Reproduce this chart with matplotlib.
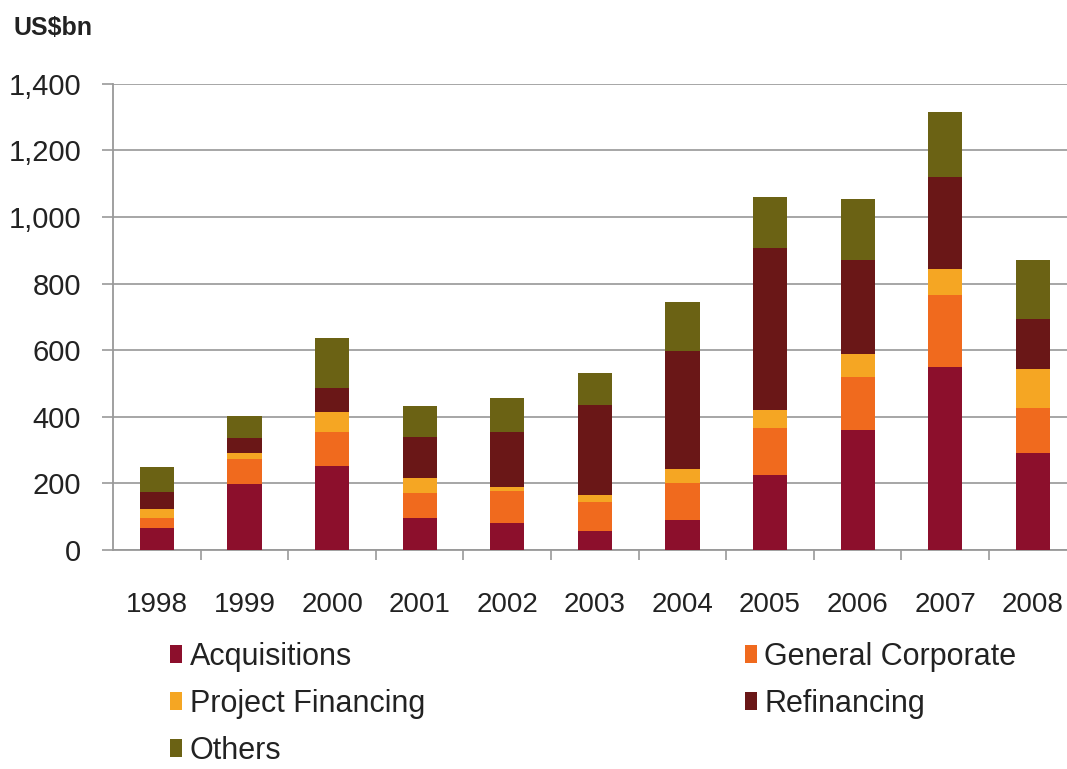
import matplotlib.pyplot as plt
import numpy as np

plt.rcParams['font.family'] = ['Liberation Sans', 'DejaVu Sans']

# Empréstimos sindicados por finalidade (US$ bilhões)
years = ['1998', '1999', '2000', '2001', '2002', '2003', '2004', '2005', '2006', '2007', '2008']
acquisitions = [65, 198, 252, 97, 80, 57, 90, 225, 360, 550, 290]
general_corporate = [30, 74, 101, 73, 98, 86, 110, 140, 160, 215, 137]
project_financing = [27, 18, 60, 47, 12, 22, 44, 55, 67, 78, 116]
refinancing = [53, 47, 72, 121, 163, 270, 352, 486, 284, 277, 150]
others = [73, 66, 152, 94, 102, 97, 149, 155, 184, 195, 178]

series = [
    ('Acquisitions', acquisitions, '#8c0f2c'),
    ('General Corporate', general_corporate, '#f06a1e'),
    ('Project Financing', project_financing, '#f5a623'),
    ('Refinancing', refinancing, '#6a1717'),
    ('Others', others, '#6b6214'),
]

fig = plt.figure(figsize=(10.67, 7.69), dpi=100)
ax = fig.add_axes([0.106, 0.285, 0.894, 0.606])

x = np.arange(len(years))
bottom = np.zeros(len(years))
handles = {}
for label, values, color in series:
    bars = ax.bar(x, values, width=0.39, bottom=bottom, color=color, label=label, zorder=3)
    handles[label] = bars
    bottom += np.array(values)

# Eixos e grade
ax.set_ylim(0, 1400)
ax.set_xlim(-0.5, 10.39)
ax.set_yticks(range(0, 1401, 200))
ax.set_yticklabels([f'{v:,}' for v in range(0, 1401, 200)], fontsize=21, color='#222222')
ax.set_xticks(x)
ax.set_xticklabels(years, fontsize=20, color='#222222')
ax.set_xticks(x[:-1] + 0.5, minor=True)
ax.tick_params(axis='x', which='major', length=0, pad=30)
ax.tick_params(axis='x', which='minor', length=7, color='#999999', width=1.2)
ax.tick_params(axis='y', length=8, color='#999999', width=1.2, pad=15)
ax.grid(axis='y', color='#a6a6a6', linewidth=1.4, zorder=0)

for side in ['top', 'right']:
    ax.spines[side].set_visible(False)
for side in ['left', 'bottom']:
    ax.spines[side].set_color('#999999')
    ax.spines[side].set_linewidth(1.3)

fig.text(0.013, 0.963, 'US$bn', fontsize=18, fontweight='bold', color='#222222', va='center')

# Legenda em duas colunas abaixo do gráfico (coluna da esquerda com 3 itens)
order = ['Acquisitions', 'Project Financing', 'Others', 'General Corporate', 'Refinancing']
fig.legend(handles=[handles[k] for k in order], loc='upper left', bbox_to_anchor=(0.148, 0.181),
           bbox_transform=fig.transFigure, ncol=2, frameon=False, fontsize=22,
           handlelength=0.4, handleheight=0.5, handletextpad=0.25,
           columnspacing=10.45, labelspacing=0.55, borderaxespad=0,
           labelcolor='#222222')

plt.savefig('out.png', dpi=100)
